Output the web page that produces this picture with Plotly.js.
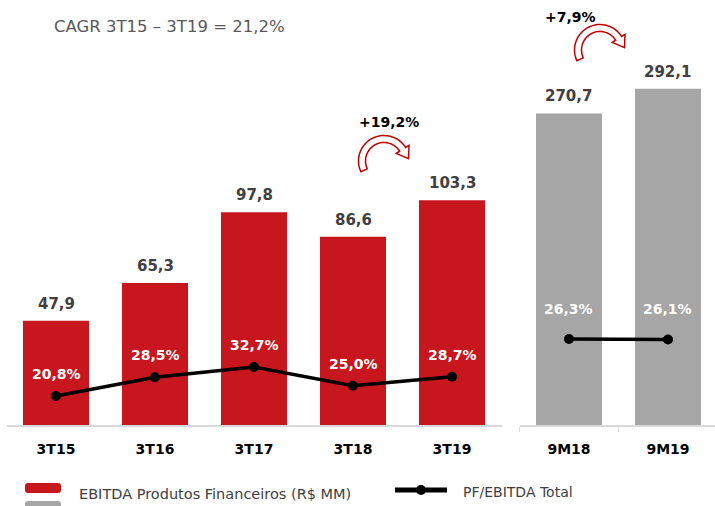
<!DOCTYPE html>
<html>
<head>
<meta charset="utf-8">
<script src="https://cdn.plot.ly/plotly-3.0.1.min.js"></script>
<style>html,body{margin:0;padding:0;background:#fff;}#chart{width:715px;height:506px;}</style>
</head>
<body>
<div id="chart"></div>
<script>
// ---- data ----
const categories = ['3T15', '3T16', '3T17', '3T18', '3T19'];
const ebitda = [47.9, 65.3, 97.8, 86.6, 103.3];
const pfRatio = [20.8, 28.5, 32.7, 25.0, 28.7];
const ytdCategories = ['9M18', '9M19'];
const ytdEbitda = [270.7, 292.1];
const ytdRatio = [26.3, 26.1];
const growthLabels = ['+19,2%', '+7,9%'];
const cagrText = 'CAGR 3T15 – 3T19 = 21,2%';
const barName = 'EBITDA Produtos Financeiros (R$ MM)';
const lineName = 'PF/EBITDA Total';

// ---- styling ----
const W = 715, H = 506;
const FONT = 'DejaVu Sans, Century Gothic, sans-serif';
const RED = '#c8161e', GREY = '#a6a6a6', AXIS = '#d9d9d9', LABEL = '#404040';
const px = x => x / W;
const py = y => 1 - y / H;
const fmt = (v, d) => v.toFixed(d).replace('.', ',');

function arrowPath(cx, cy, r, w, a0, a1, head, hw) {
  const P = (rad, deg) => [cx + rad * Math.cos(deg * Math.PI / 180), cy - rad * Math.sin(deg * Math.PI / 180)];
  const ro = r + w / 2, ri = r - w / 2, n = 30, pts = [];
  for (let i = 0; i <= n; i++) pts.push(P(ro, a0 + (a1 - a0) * i / n));
  pts.push(P(ro + hw, a1));
  const t = a1 * Math.PI / 180, c = P(r, a1);
  pts.push([c[0] + head * Math.sin(t), c[1] + head * Math.cos(t)]);
  pts.push(P(ri - hw, a1));
  for (let i = n; i >= 0; i--) pts.push(P(ri, a0 + (a1 - a0) * i / n));
  return 'M' + pts.map(p => px(p[0]).toFixed(5) + ',' + py(p[1]).toFixed(5)).join(' L') + ' Z';
}
function roundRect(x0, y0, x1, y1, r) {
  const k = [
    [x0 + r, y0], [x1 - r, y0], [x1, y0 + r], [x1, y1 - r], [x1 - r, y1], [x0 + r, y1], [x0, y1 - r], [x0, y0 + r]
  ];
  return 'M' + px(k[0][0]) + ',' + py(k[0][1]) +
    ' L' + px(k[1][0]) + ',' + py(k[1][1]) +
    ' Q' + px(x1) + ',' + py(y0) + ' ' + px(k[2][0]) + ',' + py(k[2][1]) +
    ' L' + px(k[3][0]) + ',' + py(k[3][1]) +
    ' Q' + px(x1) + ',' + py(y1) + ' ' + px(k[4][0]) + ',' + py(k[4][1]) +
    ' L' + px(k[5][0]) + ',' + py(k[5][1]) +
    ' Q' + px(x0) + ',' + py(y1) + ' ' + px(k[6][0]) + ',' + py(k[6][1]) +
    ' L' + px(k[7][0]) + ',' + py(k[7][1]) +
    ' Q' + px(x0) + ',' + py(y0) + ' ' + px(k[0][0]) + ',' + py(k[0][1]) + ' Z';
}

const traces = [
  { type: 'bar', x: categories, y: ebitda, xaxis: 'x', yaxis: 'y', marker: { color: RED }, name: barName, hoverinfo: 'skip' },
  { type: 'bar', x: ytdCategories, y: ytdEbitda, xaxis: 'x2', yaxis: 'y2', marker: { color: GREY }, name: barName, hoverinfo: 'skip' },
  { type: 'scatter', mode: 'lines+markers', x: categories, y: pfRatio, xaxis: 'x', yaxis: 'y3',
    line: { color: '#000', width: 3.5 }, marker: { color: '#000', size: 10 }, name: lineName, hoverinfo: 'skip' },
  { type: 'scatter', mode: 'lines+markers', x: ytdCategories, y: ytdRatio, xaxis: 'x2', yaxis: 'y4',
    line: { color: '#000', width: 3.5 }, marker: { color: '#000', size: 10 }, name: lineName, hoverinfo: 'skip' }
];

const annotations = [];
categories.forEach((c, i) => {
  annotations.push({ xref: 'x', yref: 'y', x: c, y: ebitda[i], text: fmt(ebitda[i], 1), showarrow: false,
    yanchor: 'middle', yshift: 17, font: { family: FONT, size: 15, color: LABEL, weight: 'bold' } });
  annotations.push({ xref: 'x', yref: 'y3', x: c, y: pfRatio[i], text: fmt(pfRatio[i], 1) + '%', showarrow: false,
    yanchor: 'middle', yshift: 22, font: { family: FONT, size: 14, color: '#fff', weight: 'bold' } });
});
ytdCategories.forEach((c, i) => {
  annotations.push({ xref: 'x2', yref: 'y2', x: c, y: ytdEbitda[i], text: fmt(ytdEbitda[i], 1), showarrow: false,
    yanchor: 'middle', yshift: 17, font: { family: FONT, size: 15, color: LABEL, weight: 'bold' } });
  annotations.push({ xref: 'x2', yref: 'y4', x: c, y: ytdRatio[i], text: fmt(ytdRatio[i], 1) + '%', showarrow: false,
    yanchor: 'middle', yshift: 30, font: { family: FONT, size: 14, color: '#fff', weight: 'bold' } });
});
annotations.push({ xref: 'paper', yref: 'paper', x: px(52), y: py(26), xanchor: 'left', yanchor: 'middle',
  text: cagrText, showarrow: false, font: { family: FONT, size: 16.5, color: '#595959' } });
annotations.push({ xref: 'paper', yref: 'paper', x: px(389), y: py(122), xanchor: 'center', yanchor: 'middle',
  text: growthLabels[0], showarrow: false, font: { family: FONT, size: 14, color: '#000', weight: 'bold' } });
annotations.push({ xref: 'paper', yref: 'paper', x: px(570), y: py(17), xanchor: 'center', yanchor: 'middle',
  text: growthLabels[1], showarrow: false, font: { family: FONT, size: 14, color: '#000', weight: 'bold' } });
annotations.push({ xref: 'paper', yref: 'paper', x: px(77), y: py(494), xanchor: 'left', yanchor: 'middle',
  text: barName, showarrow: false, font: { family: FONT, size: 14.5, color: LABEL } });
annotations.push({ xref: 'paper', yref: 'paper', x: px(461), y: py(492), xanchor: 'left', yanchor: 'middle',
  text: lineName, showarrow: false, font: { family: FONT, size: 14, color: LABEL } });

const shapes = [
  { type: 'path', xref: 'paper', yref: 'paper', path: arrowPath(384, 161, 22, 7, 205, 32, 11, 4),
    fillcolor: '#fff', line: { color: '#c00000', width: 1.5 }, layer: 'above' },
  { type: 'path', xref: 'paper', yref: 'paper', path: arrowPath(600, 50, 22, 7, 205, 32, 11, 4),
    fillcolor: '#fff', line: { color: '#c00000', width: 1.5 }, layer: 'above' },
  { type: 'path', xref: 'paper', yref: 'paper', path: roundRect(25, 483, 61, 493, 3),
    fillcolor: RED, line: { width: 0 } },
  { type: 'path', xref: 'paper', yref: 'paper', path: roundRect(25, 501, 61, 511, 3),
    fillcolor: GREY, line: { width: 0 } },
  { type: 'line', xref: 'paper', yref: 'paper', x0: px(395), x1: px(447), y0: py(490), y1: py(490),
    line: { color: '#000', width: 5 } },
  { type: 'circle', xref: 'paper', yref: 'paper', x0: px(416), x1: px(426), y0: py(485), y1: py(495),
    fillcolor: '#000', line: { color: '#000', width: 0 } }
];

const yDom = [py(425), 1];
const layout = {
  width: W, height: H,
  margin: { l: 0, r: 0, t: 0, b: 0 },
  paper_bgcolor: '#fff', plot_bgcolor: 'rgba(0,0,0,0)',
  showlegend: false,
  bargap: 0.333,
  font: { family: FONT },
  xaxis: { domain: [px(6.5), px(501.5)], anchor: 'y', type: 'category', range: [-0.5, 4.5],
    showline: true, linecolor: AXIS, linewidth: 2, ticks: '', showgrid: false, zeroline: false,
    tickfont: { family: FONT, size: 14, color: '#000', weight: 'bold' }, ticklabelstandoff: 10, fixedrange: true },
  xaxis2: { domain: [px(519.5), 1], anchor: 'y2', type: 'category', range: [-0.5, 1.475],
    showline: true, linecolor: AXIS, linewidth: 1.5, ticks: 'outside', tickson: 'boundaries', ticklen: 5,
    tickcolor: AXIS, tickwidth: 1.5, showgrid: false, zeroline: false,
    tickfont: { family: FONT, size: 14, color: '#000', weight: 'bold' }, ticklabelstandoff: 11, fixedrange: true },
  yaxis: { domain: yDom, anchor: 'x', range: [0, 195.4], visible: false, showgrid: false, zeroline: false },
  yaxis2: { domain: yDom, anchor: 'x2', range: [0, 369.2], visible: false, showgrid: false, zeroline: false },
  yaxis3: { overlaying: 'y', anchor: 'x', range: [8.9, 183.1], visible: false, showgrid: false, zeroline: false },
  yaxis4: { overlaying: 'y2', anchor: 'x2', range: [-8.95, 165.2], visible: false, showgrid: false, zeroline: false },
  annotations: annotations,
  shapes: shapes
};

Plotly.newPlot('chart', traces, layout, { displayModeBar: false, staticPlot: true });
</script>
</body>
</html>
